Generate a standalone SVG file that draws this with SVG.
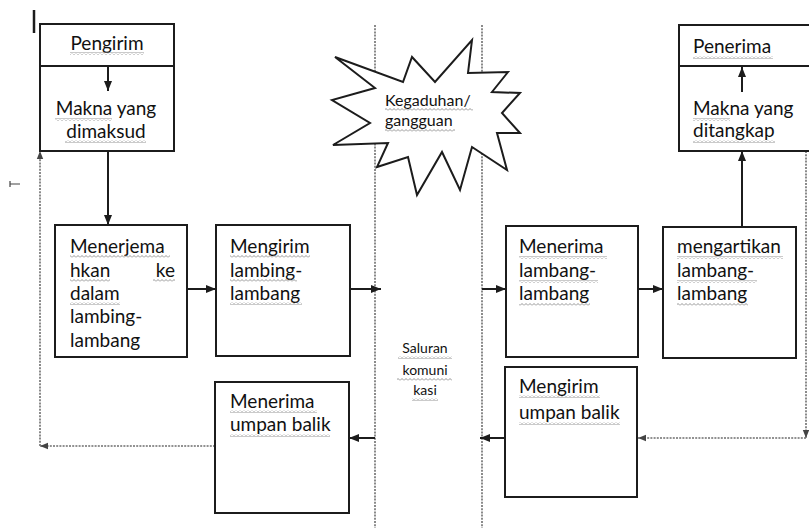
<svg xmlns="http://www.w3.org/2000/svg" width="809" height="528" viewBox="0 0 809 528">
<defs>
<style>
.box{fill:#fff;stroke:#1c1c1c;stroke-width:2}
.t{font-family:Lato,"Open Sans","Liberation Sans",sans-serif;font-size:19px;fill:#111}
.s{font-family:Lato,"Open Sans","Liberation Sans",sans-serif;font-size:16px;fill:#111}
.xs{font-family:Lato,"Open Sans","Liberation Sans",sans-serif;font-size:14px;fill:#111}
.dot{stroke:#6e6e6e;stroke-width:1.6;stroke-dasharray:2 1.2;fill:none}
.conn{stroke:#1c1c1c;stroke-width:2;fill:none}
.sq{fill:url(#sq)}
</style>
<marker id="ah" viewBox="0 0 10 10" refX="10" refY="5" markerWidth="10" markerHeight="10" markerUnits="userSpaceOnUse" orient="auto"><path d="M0,1 L10,5 L0,9 z" fill="#1c1c1c"/></marker>
<marker id="ahs" viewBox="0 0 10 10" refX="10" refY="5" markerWidth="8" markerHeight="8" markerUnits="userSpaceOnUse" orient="auto"><path d="M0,1 L10,5 L0,9 z" fill="#444"/></marker>
<pattern id="sq" width="4" height="3" patternUnits="userSpaceOnUse"><path d="M0,2.5 L2,0.5 L4,2.5" stroke="#8a8a8a" stroke-width="0.9" fill="none"/></pattern>
</defs>
<rect width="809" height="528" fill="#fff"/>

<!-- stray marks -->
<line x1="34" y1="10" x2="34" y2="33" stroke="#1c1c1c" stroke-width="2.5"/>
<path d="M10,181 L10,187 M10,184 L20,184" stroke="#444" stroke-width="1.2" fill="none"/>

<!-- channel lines -->
<g id="channel">
<line class="dot" x1="375" y1="25" x2="375" y2="528"/>
<line class="dot" x1="482" y1="25" x2="482" y2="528"/>
</g>

<g id="connectors">
<line class="conn" x1="108" y1="151" x2="108" y2="225" marker-end="url(#ah)"/>
<line class="conn" x1="187" y1="289" x2="216" y2="289" marker-end="url(#ah)"/>
<line class="conn" x1="350" y1="289" x2="381" y2="289" marker-end="url(#ah)"/>
<line class="conn" x1="482" y1="289" x2="506" y2="289" marker-end="url(#ah)"/>
<line class="conn" x1="638" y1="289" x2="663" y2="289" marker-end="url(#ah)"/>
<line class="conn" x1="742" y1="227" x2="742" y2="151" marker-end="url(#ah)"/>
<line class="conn" x1="375" y1="438" x2="349" y2="438" marker-end="url(#ah)"/>
<line class="conn" x1="505" y1="438" x2="480" y2="438" marker-end="url(#ah)"/>
<line class="dot" x1="215" y1="446" x2="40" y2="446" marker-end="url(#ahs)"/>
<line class="dot" x1="40" y1="446" x2="40" y2="151" marker-end="url(#ahs)"/>
<line class="dot" x1="806" y1="151" x2="806" y2="438" marker-end="url(#ahs)"/>
<line class="dot" x1="806" y1="438" x2="638" y2="438" marker-end="url(#ahs)"/>
</g>

<g id="pengirim">
<rect class="box" x="40" y="24" width="134" height="127"/>
<line x1="40" y1="66" x2="174" y2="66" stroke="#1c1c1c" stroke-width="2"/>
<line class="conn" x1="108" y1="66" x2="108" y2="91" marker-end="url(#ah)"/>
<text class="t" x="107" y="50" text-anchor="middle">Pengirim</text>
<rect class="sq" x="70" y="52" width="74" height="3"/>
<text class="t" x="106" y="115" text-anchor="middle">Makna yang</text>
<rect class="sq" x="55" y="118" width="57" height="3"/>
<text class="t" x="106" y="138" text-anchor="middle">dimaksud</text>
<rect class="sq" x="65" y="140" width="81" height="3"/>
</g>

<g id="menerjemahkan">
<rect class="box" x="55" y="225" width="132" height="132"/>
<text class="t" x="70" y="253">Menerjema</text>
<rect class="sq" x="70" y="255" width="100" height="3"/>
<text class="t" x="70" y="277">hkan</text>
<text class="t" x="175" y="277" text-anchor="end">ke</text>
<rect class="sq" x="70" y="279" width="40" height="3"/>
<rect class="sq" x="153" y="279" width="22" height="3"/>
<text class="t" x="70" y="300">dalam</text>
<rect class="sq" x="70" y="302" width="50" height="3"/>
<text class="t" x="70" y="323">lambing-</text>
<text class="t" x="70" y="347">lambang</text>
</g>

<g id="mengirim-lambang">
<rect class="box" x="216" y="225" width="134" height="131"/>
<text class="t" x="230" y="253">Mengirim</text>
<rect class="sq" x="230" y="255" width="80" height="3"/>
<text class="t" x="230" y="277">lambing-</text>
<rect class="sq" x="230" y="279" width="67" height="3"/>
<text class="t" x="230" y="300">lambang</text>
<rect class="sq" x="230" y="302" width="72" height="3"/>
</g>

<g id="menerima-umpan">
<rect class="box" x="215" y="382" width="134" height="131"/>
<text class="t" x="230" y="408">Menerima</text>
<rect class="sq" x="230" y="410" width="87" height="3"/>
<text class="t" x="230" y="431">umpan balik</text>
<rect class="sq" x="230" y="434" width="100" height="3"/>
</g>

<g id="kegaduhan">
<polygon points="335,57 403,82 412,57 435,82 472,40 468,73 508,72 492,92 520,93 502,113 520,133 497,133 507,170 472,147 460,190 442,152 417,195 408,157 377,167 388,143 333,145 370,123 332,100 375,88" fill="#fff" stroke="#1c1c1c" stroke-width="2" stroke-linejoin="miter"/>
<text class="s" x="385" y="106">Kegaduhan/</text>
<rect class="sq" x="385" y="108" width="88" height="3"/>
<text class="s" x="385" y="126">gangguan</text>
<rect class="sq" x="385" y="129" width="70" height="3"/>
</g>

<g id="saluran">
<text class="xs" x="425" y="353" text-anchor="middle">Saluran</text>
<rect class="sq" x="398" y="356" width="54" height="3"/>
<text class="xs" x="425" y="375" text-anchor="middle">komuni</text>
<rect class="sq" x="397" y="378" width="55" height="3"/>
<text class="xs" x="425" y="395" text-anchor="middle">kasi</text>
<rect class="sq" x="412" y="398" width="26" height="3"/>
</g>

<g id="menerima-lambang">
<rect class="box" x="506" y="226" width="132" height="131"/>
<text class="t" x="519" y="253">Menerima</text>
<rect class="sq" x="519" y="256" width="88" height="3"/>
<text class="t" x="519" y="277">lambang-</text>
<rect class="sq" x="519" y="280" width="79" height="3"/>
<text class="t" x="519" y="300">lambang</text>
<rect class="sq" x="519" y="303" width="71" height="3"/>
</g>

<g id="mengartikan">
<rect class="box" x="663" y="227" width="133" height="131"/>
<text class="t" x="677" y="253">mengartikan</text>
<rect class="sq" x="677" y="256" width="106" height="3"/>
<text class="t" x="677" y="277">lambang-</text>
<rect class="sq" x="677" y="280" width="80" height="3"/>
<text class="t" x="677" y="300">lambang</text>
<rect class="sq" x="677" y="303" width="71" height="3"/>
</g>

<g id="mengirim-umpan">
<rect class="box" x="505" y="367" width="132" height="130"/>
<text class="t" x="519" y="393">Mengirim</text>
<rect class="sq" x="519" y="395" width="81" height="3"/>
<text class="t" x="519" y="419">umpan balik</text>
<rect class="sq" x="519" y="422" width="101" height="3"/>
</g>

<g id="penerima">
<rect class="box" x="679" y="25" width="140" height="126"/>
<line x1="679" y1="66" x2="809" y2="66" stroke="#1c1c1c" stroke-width="2"/>
<line class="conn" x1="742" y1="92" x2="742" y2="67" marker-end="url(#ah)"/>
<text class="t" x="693" y="53">Penerima</text>
<rect class="sq" x="693" y="56" width="80" height="3"/>
<text class="t" x="693" y="115">Makna yang</text>
<rect class="sq" x="693" y="118" width="37" height="3"/>
<text class="t" x="693" y="137">ditangkap</text>
<rect class="sq" x="693" y="140" width="82" height="3"/>
</g>
</svg>
